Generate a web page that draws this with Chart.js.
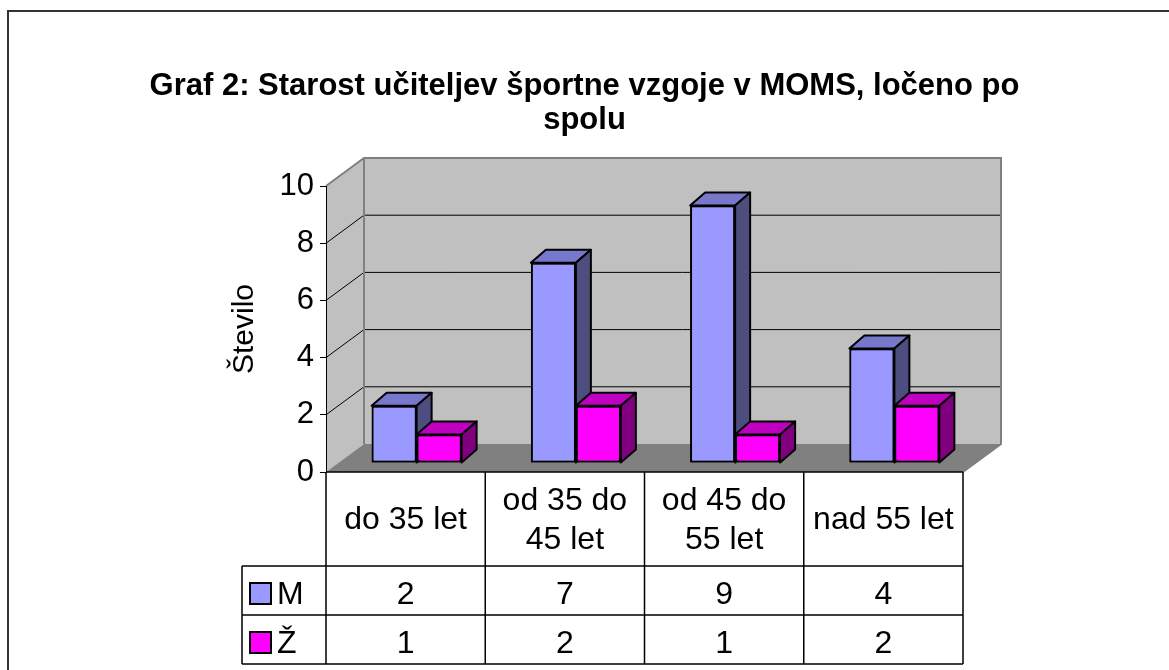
<!DOCTYPE html>
<html>
<head>
<meta charset="utf-8">
<script src="https://cdn.jsdelivr.net/npm/chart.js@4.4.0/dist/chart.umd.min.js"></script>
<style>
  html, body { margin: 0; padding: 0; background: #fff; }
  #wrap { width: 1169px; height: 670px; position: relative; }
</style>
</head>
<body>
<div id="wrap"><canvas id="chart"></canvas></div>
<script>
// data
const CATEGORIES   = [['do 35 let'], ['od 35 do', '45 let'], ['od 45 do', '55 let'], ['nad 55 let']];
const SERIES_NAMES = ['M', 'Ž'];
const M_VALUES     = [2, 7, 9, 4];
const Z_VALUES     = [1, 2, 1, 2];
const Y_TICKS      = [0, 2, 4, 6, 8, 10];
const TITLE_LINES  = ['Graf 2: Starost učiteljev športne vzgoje v MOMS, ločeno po', 'spolu'];
const Y_TITLE      = 'Število';

const FONT = 'Arial, "Liberation Sans", sans-serif';

// 3D look: back wall offset, bar offset from the front plane, bar depth
const WALL_DX = 38, WALL_DY = -28;
const SHIFT_X = 11, SHIFT_Y = -9;
const BAR_DX  = 15, BAR_DY  = -13;

const FACES = [
  { front: '#9999ff', top: '#7777cc', side: '#4d4d80' },
  { front: '#ff00ff', top: '#c000c0', side: '#800080' }
];

function poly(ctx, pts, fill, stroke) {
  ctx.beginPath();
  pts.forEach(([px, py], i) => i ? ctx.lineTo(px, py) : ctx.moveTo(px, py));
  ctx.closePath();
  ctx.fillStyle = fill;
  ctx.fill();
  if (stroke) {
    ctx.strokeStyle = stroke;
    ctx.lineWidth = 2;
    ctx.lineJoin = 'round';
    ctx.stroke();
  }
}

// walls, floor and gridlines behind everything
const walls = {
  id: 'walls',
  beforeDraw(chart) {
    const { ctx, chartArea: a, scales: { y } } = chart;
    const bl = a.left + WALL_DX, br = a.right + WALL_DX;
    const bt = a.top + WALL_DY, bb = a.bottom + WALL_DY;
    ctx.save();
    poly(ctx, [[a.left, a.top], [bl, bt], [bl, bb], [a.left, a.bottom]], '#c0c0c0');
    ctx.fillStyle = '#c0c0c0';
    ctx.fillRect(bl, bt, br - bl, bb - bt);
    poly(ctx, [[a.left, a.bottom], [a.right, a.bottom], [br, bb], [bl, bb]], '#808080');

    ctx.strokeStyle = '#000';
    ctx.lineWidth = 1;
    Y_TICKS.slice(1, -1).forEach(v => {
      const py = y.getPixelForValue(v);
      ctx.beginPath();
      ctx.moveTo(a.left, py);
      ctx.lineTo(bl, py + WALL_DY);
      ctx.lineTo(br, py + WALL_DY);
      ctx.stroke();
    });

    ctx.strokeStyle = '#808080';
    ctx.lineWidth = 2;
    ctx.beginPath();
    ctx.moveTo(a.left, a.top);
    ctx.lineTo(bl, bt);
    ctx.lineTo(br, bt);
    ctx.lineTo(br, bb);
    ctx.lineTo(a.right, a.bottom);
    ctx.moveTo(bl, bt);
    ctx.lineTo(bl, bb);
    ctx.stroke();
    ctx.restore();
  }
};

// bars: shift into depth, add top and side faces
const bars3d = {
  id: 'bars3d',
  beforeDatasetsDraw(chart) {
    chart.ctx.save();
    chart.ctx.translate(SHIFT_X, SHIFT_Y);
  },
  afterDatasetsDraw(chart) {
    const ctx = chart.ctx;
    chart.data.datasets.forEach((ds, di) => {
      const face = FACES[di];
      chart.getDatasetMeta(di).data.forEach(bar => {
        const { x, y, base, width } = bar.getProps(['x', 'y', 'base', 'width'], true);
        const l = x - width / 2, r = x + width / 2;
        bar.draw(ctx);
        poly(ctx, [[l, y], [l + BAR_DX, y + BAR_DY], [r + BAR_DX, y + BAR_DY], [r, y]], face.top, '#000');
        poly(ctx, [[r, y], [r + BAR_DX, y + BAR_DY], [r + BAR_DX, base + BAR_DY], [r, base]], face.side, '#000');
      });
    });
    ctx.restore();
  }
};

// data table, title and outer frame
const extras = {
  id: 'extras',
  afterDraw(chart) {
    const { ctx, chartArea: a, scales: { x } } = chart;
    const colW = (a.right - a.left) / CATEGORIES.length;
    const headBottom = a.bottom + 94, rowH = 49, legendLeft = 242;
    ctx.save();

    ctx.strokeStyle = '#000';
    ctx.lineWidth = 1.5;
    ctx.beginPath();
    ctx.moveTo(a.left, a.bottom);
    ctx.lineTo(a.right, a.bottom);
    for (let r = 0; r <= 2; r++) {
      ctx.moveTo(legendLeft, headBottom + r * rowH);
      ctx.lineTo(a.right, headBottom + r * rowH);
    }
    for (let i = 0; i <= CATEGORIES.length; i++) {
      const cx = a.left + i * colW;
      ctx.moveTo(cx, a.bottom);
      ctx.lineTo(cx, headBottom + 2 * rowH);
    }
    ctx.moveTo(legendLeft, headBottom);
    ctx.lineTo(legendLeft, headBottom + 2 * rowH);
    ctx.stroke();

    ctx.fillStyle = '#000';
    ctx.font = `32px ${FONT}`;
    ctx.textAlign = 'center';
    ctx.textBaseline = 'alphabetic';
    CATEGORIES.forEach((lines, i) => {
      const cx = x.getPixelForValue(i);
      const first = a.bottom + 57 - (lines.length - 1) * 19.5;
      lines.forEach((t, j) => ctx.fillText(t, cx, first + j * 39));
      [M_VALUES, Z_VALUES].forEach((vals, s) => {
        ctx.fillText(String(vals[i]), cx, headBottom + 38 + s * rowH);
      });
    });

    ctx.textAlign = 'left';
    SERIES_NAMES.forEach((name, s) => {
      const rowY = headBottom + s * rowH;
      ctx.fillStyle = FACES[s].front;
      ctx.fillRect(250, rowY + 17, 21, 21);
      ctx.strokeStyle = '#000';
      ctx.lineWidth = 2;
      ctx.strokeRect(250, rowY + 17, 21, 21);
      ctx.fillStyle = '#000';
      ctx.fillText(name, 277, rowY + 38);
    });

    ctx.font = `bold 31px ${FONT}`;
    ctx.textAlign = 'center';
    TITLE_LINES.forEach((t, i) => ctx.fillText(t, 584.5, 95 + i * 34));

    ctx.strokeStyle = '#333';
    ctx.lineWidth = 2;
    ctx.beginPath();
    ctx.moveTo(8, 670);
    ctx.lineTo(8, 11);
    ctx.lineTo(1169, 11);
    ctx.stroke();
    ctx.restore();
  }
};

new Chart(document.getElementById('chart'), {
  type: 'bar',
  data: {
    labels: CATEGORIES,
    datasets: [
      { label: SERIES_NAMES[0], data: M_VALUES, backgroundColor: FACES[0].front,
        borderColor: '#000', borderWidth: 2, borderSkipped: false },
      { label: SERIES_NAMES[1], data: Z_VALUES, backgroundColor: FACES[1].front,
        borderColor: '#000', borderWidth: 2, borderSkipped: false }
    ]
  },
  options: {
    responsive: true,
    maintainAspectRatio: false,
    animation: false,
    layout: { padding: { left: 200, right: 206, top: 186, bottom: 198 } },
    datasets: { bar: { categoryPercentage: 0.565, barPercentage: 1 } },
    plugins: {
      legend: { display: false },
      title: { display: false },
      tooltip: { enabled: false }
    },
    scales: {
      x: { display: false },
      y: {
        min: 0, max: 10,
        afterFit: s => { s.width = 126; },
        ticks: { stepSize: 2, color: '#000', padding: 6, font: { family: FONT, size: 31 } },
        grid: { drawOnChartArea: false, tickLength: 6, color: '#000' },
        border: { color: '#000', width: 1 },
        title: { display: true, text: Y_TITLE, color: '#000',
                 font: { family: FONT, size: 30 }, padding: { top: 27, bottom: 0 } }
      }
    }
  },
  plugins: [walls, bars3d, extras]
});
</script>
</body>
</html>
